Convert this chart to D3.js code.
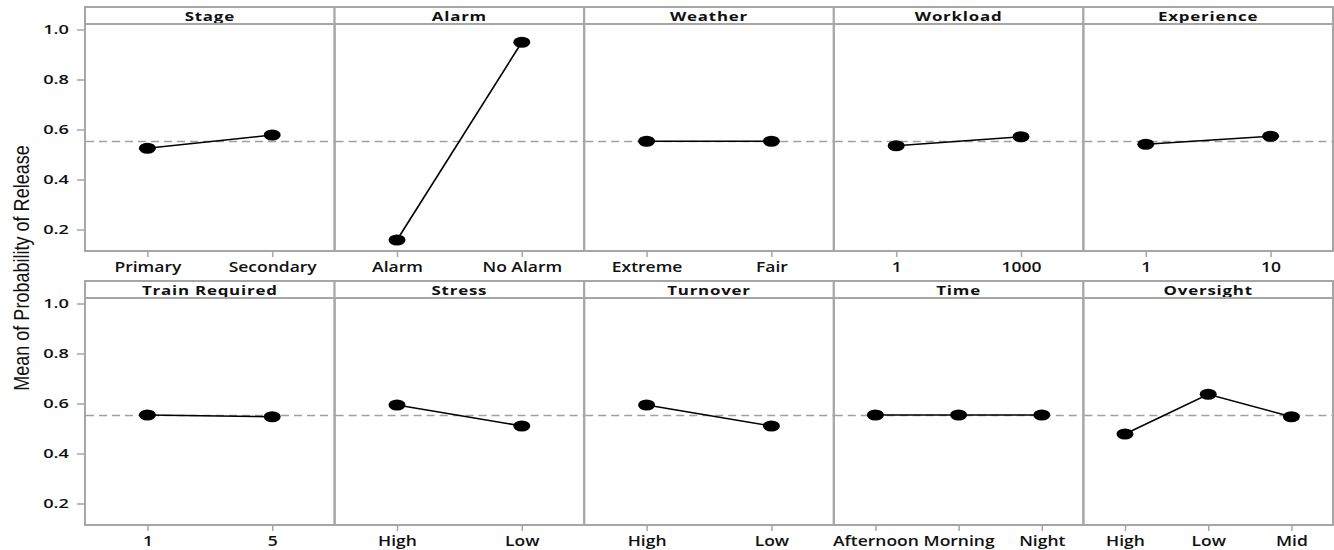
<!DOCTYPE html>
<html>
<head>
<meta charset="utf-8">
<script src="https://cdn.jsdelivr.net/npm/d3@7"></script>
<style>
  body { margin: 0; background: #fff; }
  .tick text { font-family: "Open Sans", sans-serif; font-weight: 600; fill: #111; }
  .x-axis .tick text { font-size: 14px; }
  .y-axis .tick text { font-size: 13px; }
  .tick line { stroke: #a6a6a6; stroke-width: 1.5; }
  .domain { display: none; }
  .strip-title { font-family: "Open Sans", sans-serif; font-weight: 700; font-size: 13px; letter-spacing: 0.6px; fill: #111; }
  .ylabel { font-family: "Liberation Sans Narrow", "Arial Narrow", "Liberation Sans", sans-serif; font-size: 22px; fill: #111; }
</style>
</head>
<body>
<svg id="chart"></svg>
<script>
// data
const factors = ['Stage', 'Alarm', 'Weather', 'Workload', 'Experience',
                 'Train Required', 'Stress', 'Turnover', 'Time', 'Oversight'];
const levels = [
  ['Primary', 'Secondary'],
  ['Alarm', 'No Alarm'],
  ['Extreme', 'Fair'],
  ['1', '1000'],
  ['1', '10'],
  ['1', '5'],
  ['High', 'Low'],
  ['High', 'Low'],
  ['Afternoon', 'Morning', 'Night'],
  ['High', 'Low', 'Mid']
];
const means = [
  [0.525, 0.578],
  [0.158, 0.949],
  [0.553, 0.553],
  [0.535, 0.571],
  [0.541, 0.573],
  [0.554, 0.547],
  [0.594, 0.510],
  [0.594, 0.510],
  [0.554, 0.554, 0.554],
  [0.478, 0.637, 0.547]
];
const grandMean = 0.552;
const yTicks = [0.2, 0.4, 0.6, 0.8, 1.0];

// 1. canvas
const width = 1334, height = 550;
const left = 85, right = 1333;
const rowTops = [7, 281];
const stripH = 17, plotH = 227;
const cols = 5;
const panelW = (right - left) / cols;

const svg = d3.select('#chart')
  .attr('width', width)
  .attr('height', height);

const borderColor = '#a6a6a6';

rowTops.forEach((top, r) => {
  const yScale = d3.scaleLinear()
    .domain([0.114, 1.022])
    .range([top + stripH + plotH, top + stripH]);

  // y axis on leftmost panel (text stretched wide like the original)
  svg.append('g')
    .attr('class', 'y-axis')
    .attr('transform', `translate(${left - 1},0)`)
    .call(d3.axisLeft(yScale).tickValues(yTicks).tickFormat(d3.format('.1f')).tickSize(7))
    .selectAll('.tick text')
      .attr('x', 0)
      .attr('transform', 'translate(-15,0) scale(1.4,1)');

  for (let c = 0; c < cols; c++) {
    const i = r * cols + c;
    const x0 = left + c * panelW;
    const xScale = d3.scalePoint()
      .domain(levels[i])
      .range([x0, x0 + panelW])
      .padding(0.5);

    const g = svg.append('g').attr('class', 'panel');

    // x axis
    g.append('g')
      .attr('class', 'x-axis')
      .attr('transform', `translate(0,${top + stripH + plotH + 1})`)
      .call(d3.axisBottom(xScale).tickSize(5).tickPadding(5))
      .selectAll('.tick text')
        .attr('transform', 'scale(1.25,1)');

    // strip header
    g.append('rect')
      .attr('x', x0).attr('y', top)
      .attr('width', panelW).attr('height', stripH)
      .attr('fill', '#fff')
      .attr('stroke', borderColor).attr('stroke-width', 2);
    g.append('text')
      .attr('class', 'strip-title')
      .attr('transform', `translate(${x0 + panelW / 2},${top + 14}) scale(1.3,1)`)
      .attr('text-anchor', 'middle')
      .text(factors[i]);

    // plot frame
    g.append('rect')
      .attr('x', x0).attr('y', top + stripH)
      .attr('width', panelW).attr('height', plotH)
      .attr('fill', 'none')
      .attr('stroke', borderColor).attr('stroke-width', 2);

    // reference line (grand mean)
    g.append('line')
      .attr('x1', x0 + 1).attr('x2', x0 + panelW - 1)
      .attr('y1', yScale(grandMean)).attr('y2', yScale(grandMean))
      .attr('stroke', '#a0a0a0')
      .attr('stroke-width', 1.5)
      .attr('stroke-dasharray', '8,5');

    const pts = levels[i].map((l, k) => ({ level: l, mean: means[i][k] }));

    g.append('path')
      .datum(pts)
      .attr('fill', 'none')
      .attr('stroke', '#000')
      .attr('stroke-width', 1.6)
      .attr('d', d3.line().x(d => xScale(d.level)).y(d => yScale(d.mean)));

    g.selectAll('.dot')
      .data(pts)
      .enter()
      .append('ellipse')
        .attr('class', 'dot')
        .attr('cx', d => xScale(d.level))
        .attr('cy', d => yScale(d.mean))
        .attr('rx', 8.5)
        .attr('ry', 5.5)
        .attr('fill', '#000');
  }
});

// y axis title, squeezed along its length to look condensed
svg.append('text')
  .attr('class', 'ylabel')
  .attr('transform', `translate(21,268) rotate(-90) scale(0.82,1)`)
  .attr('text-anchor', 'middle')
  .attr('dy', '0.35em')
  .text('Mean of Probability of Release');
</script>
</body>
</html>
